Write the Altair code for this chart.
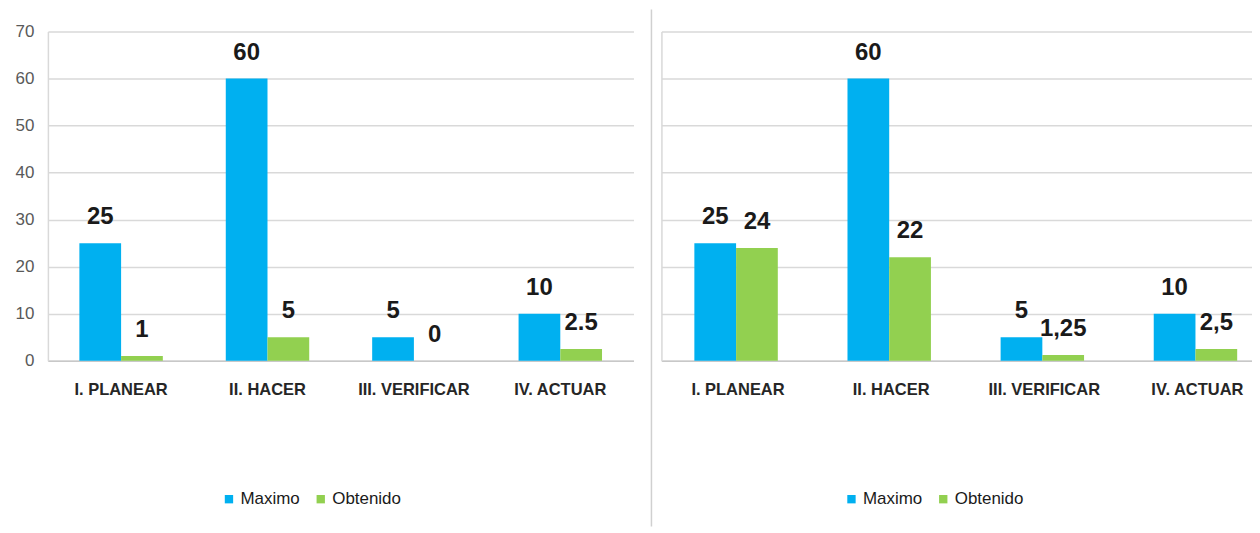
import altair as alt
import pandas as pd

categories = ["I. PLANEAR", "II. HACER", "III. VERIFICAR", "IV. ACTUAR"]
series = ["Maximo", "Obtenido"]
colors = ["#00B0F0", "#92D050"]

left_maximo = [25, 60, 5, 10]
left_obtenido = [1, 5, 0, 2.5]
left_max_labels = ["25", "60", "5", "10"]
left_obt_labels = ["1", "5", "0", "2.5"]

right_maximo = [25, 60, 5, 10]
right_obtenido = [24, 22, 1.25, 2.5]
right_max_labels = ["25", "60", "5", "10"]
right_obt_labels = ["24", "22", "1,25", "2,5"]

y_ticks = [0, 10, 20, 30, 40, 50, 60, 70]

FONT = "Liberation Sans, Arial, sans-serif"


def make_df(maxv, obtv, maxl, obtl):
    rows = []
    for c, v, l in zip(categories, maxv, maxl):
        rows.append({"cat": c, "serie": "Maximo", "val": v, "label": l})
    for c, v, l in zip(categories, obtv, obtl):
        rows.append({"cat": c, "serie": "Obtenido", "val": v, "label": l})
    return pd.DataFrame(rows)


def panel(df, show_y, width, legend_x, sep, pad_outer, align):
    x = alt.X(
        "cat:N", sort=categories, title=None,
        scale=alt.Scale(paddingInner=0.43, paddingOuter=pad_outer, align=align),
        axis=alt.Axis(labelAngle=0, labelFont=FONT, labelFontSize=16.5,
                      labelFontWeight="bold", labelColor="#262626",
                      ticks=False, domainColor="#C8C8C8", domainWidth=1.5,
                      labelPadding=21),
    )
    y = alt.Y(
        "val:Q", scale=alt.Scale(domain=[0, 70]),
        axis=alt.Axis(values=y_ticks, title=None, labels=show_y, ticks=False,
                      grid=True, gridColor="#D9D9D9", gridWidth=1.5,
                      domainColor="#D9D9D9", domainWidth=1.5,
                      labelFont=FONT, labelFontSize=17, labelColor="#595959",
                      labelPadding=14),
    )
    color = alt.Color(
        "serie:N", sort=series,
        scale=alt.Scale(domain=series, range=colors),
        legend=alt.Legend(orient="none", legendX=legend_x, legendY=460,
                          direction="horizontal", title=None,
                          symbolType="square", symbolSize=70,
                          symbolStrokeWidth=0, labelFont=FONT,
                          labelFontSize=17, labelColor="#1a1a1a",
                          columnPadding=12, labelOffset=3),
    )
    xo = alt.XOffset("serie:N", sort=series)
    base = alt.Chart(df)
    bars = base.mark_bar().encode(x=x, xOffset=xo, y=y, color=color)
    text = base.mark_text(baseline="alphabetic", dy=-19, font=FONT,
                          fontSize=24, fontWeight="bold",
                          color="#1a1a1a").encode(
        x=x, xOffset=xo, y=y, text="label:N")
    layers = [bars, text]
    if sep:
        rule = alt.Chart(pd.DataFrame({"a": [0]})).mark_rule(
            color="#D0D0D0", strokeWidth=1.5).encode(
            x=alt.value(-10), y=alt.value(-22), y2=alt.value(496))
        layers.append(rule)
    return alt.layer(*layers).properties(width=width, height=330)


left = panel(make_df(left_maximo, left_obtenido, left_max_labels, left_obt_labels),
             True, 587, 173, False, 0.215, 0.5)
right = panel(make_df(right_maximo, right_obtenido, right_max_labels, right_obt_labels),
              False, 592, 182, True, 0.1434, 0.75)

chart = alt.hconcat(left, right, spacing=28, bounds="flush").resolve_scale(
    color="independent", x="independent", y="independent"
).properties(
    padding={"left": 7, "top": 0, "right": 0, "bottom": 0},
    background="white",
).configure_view(stroke=None)

chart.save("out.html", embed_options={"renderer": "svg", "actions": False})
